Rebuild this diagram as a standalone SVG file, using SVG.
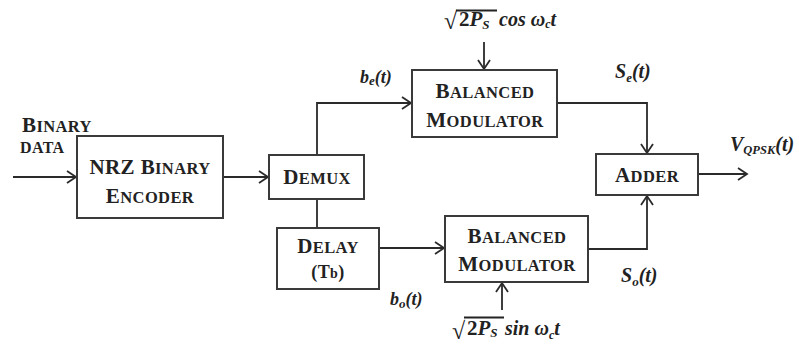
<svg xmlns="http://www.w3.org/2000/svg" width="799" height="348" viewBox="0 0 799 348">
<style>
.box{fill:#fff;stroke:#3a3a3a;stroke-width:2}
.ln{fill:none;stroke:#2a2a2a;stroke-width:1.8}
.t{font-family:"Liberation Serif","Times New Roman",serif;font-weight:bold;fill:#222;letter-spacing:0.4px}
.L{font-size:21px}
.S{font-size:16.5px}
.lab{font-family:"Liberation Serif","Times New Roman",serif;font-weight:bold;font-style:italic;fill:#222}
.m{font-family:"Liberation Serif","Times New Roman",serif;font-weight:bold;fill:#222}
</style>
<defs>
<marker id="ah" markerUnits="userSpaceOnUse" markerWidth="12" markerHeight="14" refX="10" refY="7" orient="auto">
<path d="M1,1 L10,7 L1,13" fill="none" stroke="#2a2a2a" stroke-width="1.8"/>
</marker>
</defs>
<rect width="799" height="348" fill="#fff"/>

<g id="connectors">
<line class="ln" x1="13" y1="177" x2="76" y2="177" marker-end="url(#ah)"/>
<line class="ln" x1="223" y1="177" x2="268" y2="177" marker-end="url(#ah)"/>
<polyline class="ln" points="317,155 317,103 411,103" marker-end="url(#ah)"/>
<line class="ln" x1="317" y1="199" x2="317" y2="228"/>
<line class="ln" x1="379" y1="248" x2="444" y2="248" marker-end="url(#ah)"/>
<line class="ln" x1="484" y1="42" x2="484" y2="69" marker-end="url(#ah)"/>
<line class="ln" x1="502" y1="310" x2="502" y2="283" marker-end="url(#ah)"/>
<polyline class="ln" points="557,103 647,103 647,153" marker-end="url(#ah)"/>
<polyline class="ln" points="588,249 647,249 647,196" marker-end="url(#ah)"/>
<line class="ln" x1="698" y1="174" x2="747" y2="174" marker-end="url(#ah)"/>
</g>

<g id="label-binary-data">
<text class="t" x="22" y="132"><tspan class="L" font-size="19px">B</tspan><tspan class="S" font-size="15px">INARY</tspan></text>
<text class="t" x="20" y="153" font-size="16px">DATA</text>
</g>

<g id="nrz">
<rect class="box" x="77" y="136" width="146" height="82"/>
<text class="t" x="150" y="174" text-anchor="middle"><tspan class="L">NRZ B</tspan><tspan class="S">INARY</tspan></text>
<text class="t" x="150" y="203" text-anchor="middle"><tspan class="L">E</tspan><tspan class="S">NCODER</tspan></text>
</g>

<g id="demux">
<rect class="box" x="269" y="155" width="95" height="44"/>
<text class="t" x="317" y="184" text-anchor="middle"><tspan class="L">D</tspan><tspan class="S">EMUX</tspan></text>
</g>

<g id="delay">
<rect class="box" x="277" y="228" width="102" height="61"/>
<text class="t" x="328" y="253" text-anchor="middle"><tspan class="L">D</tspan><tspan class="S">ELAY</tspan></text>
<text class="t" x="328" y="278" text-anchor="middle"><tspan font-size="18px">(T</tspan><tspan font-size="14px">b</tspan><tspan font-size="18px">)</tspan></text>
</g>

<g id="bm-top">
<rect class="box" x="412" y="70" width="145" height="67"/>
<text class="t" x="485" y="98" text-anchor="middle"><tspan class="L">B</tspan><tspan class="S">ALANCED</tspan></text>
<text class="t" x="485" y="127" text-anchor="middle"><tspan class="L">M</tspan><tspan class="S">ODULATOR</tspan></text>
</g>

<g id="bm-bottom">
<rect class="box" x="445" y="216" width="143" height="66"/>
<text class="t" x="517" y="243" text-anchor="middle"><tspan class="L">B</tspan><tspan class="S">ALANCED</tspan></text>
<text class="t" x="517" y="271" text-anchor="middle"><tspan class="L">M</tspan><tspan class="S">ODULATOR</tspan></text>
</g>

<g id="adder">
<rect class="box" x="596" y="154" width="102" height="41"/>
<text class="t" x="647" y="182" text-anchor="middle"><tspan class="L">A</tspan><tspan class="S">DDER</tspan></text>
</g>

<g id="labels">
<text class="lab" x="360" y="83" font-size="18">b<tspan font-size="13" dy="2">e</tspan><tspan dy="-2">(t)</tspan></text>
<text class="lab" x="390" y="305" font-size="18">b<tspan font-size="13" dy="3">o</tspan><tspan dy="-3">(t)</tspan></text>
<text class="lab" x="615" y="78" font-size="20">S<tspan font-size="13" dy="4">e</tspan><tspan dy="-4">(t)</tspan></text>
<text class="lab" x="621" y="282" font-size="20">S<tspan font-size="13" dy="4">o</tspan><tspan dy="-4">(t)</tspan></text>
<text class="lab" x="730" y="151" font-size="20">V<tspan font-size="12.5" dy="3">QPSK</tspan><tspan dy="-3">(t)</tspan></text>
</g>

<g id="carrier-cos">
<text class="m" x="444" y="29" font-size="24">√</text>
<line x1="456" y1="10.5" x2="497" y2="10.5" stroke="#222" stroke-width="1.8"/>
<text class="m" x="459" y="26" font-size="21">2<tspan font-style="italic">P</tspan><tspan font-style="italic" font-size="13" dy="3">S</tspan></text>
<text class="lab" x="499" y="26" font-size="20">cos ω<tspan font-size="12" dy="2">c</tspan><tspan dy="-2">t</tspan></text>
</g>

<g id="carrier-sin">
<text class="m" x="452" y="339" font-size="24">√</text>
<line x1="464" y1="317.5" x2="504" y2="317.5" stroke="#222" stroke-width="1.8"/>
<text class="m" x="467" y="335" font-size="21">2<tspan font-style="italic">P</tspan><tspan font-style="italic" font-size="13" dy="2">S</tspan></text>
<text class="lab" x="505" y="335" font-size="20">sin ω<tspan font-size="12" dy="4">c</tspan><tspan dy="-4">t</tspan></text>
</g>
</svg>
